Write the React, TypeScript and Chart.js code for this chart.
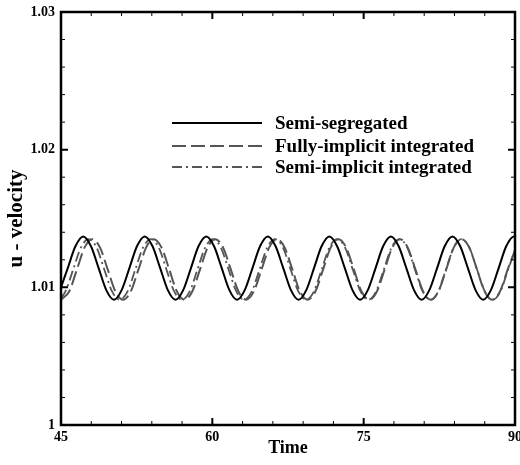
import React, { useEffect, useRef } from "react";
import { Chart, registerables } from "chart.js";

Chart.register(...registerables);

const X_MIN = 45;
const X_MAX = 90;
const Y_MIN = 1;
const Y_MAX = 1.03;

const xTickValues = [45, 60, 75, 90];
const xTickLabels = ["45", "60", "75", "90"];
const yTickValues = [1, 1.01, 1.02, 1.03];
const yTickLabels = ["1", "1.01", "1.02", "1.03"];

const seriesNames = ["Semi-segregated", "Fully-implicit integrated", "Semi-implicit integrated"];

const semiSegTime = [
  45, 45.67, 46.44, 47.2, 47.96, 48.73, 49.49, 50.25, 51.01, 51.78, 52.54, 53.3, 54.06, 54.83, 55.59,
  56.35, 57.11, 57.88, 58.64, 59.4, 60.16, 60.93, 61.69, 62.45, 63.21, 63.98, 64.74, 65.5, 66.26, 67.03,
  67.79, 68.55, 69.31, 70.08, 70.84, 71.6, 72.36, 73.13, 73.89, 74.65, 75.41, 76.18, 76.94, 77.7, 78.46,
  79.23, 79.99, 80.75, 81.51, 82.28, 83.04, 83.8, 84.56, 85.33, 86.09, 86.85, 87.61, 88.38, 89.14, 89.9, 90,
];
const semiSegU = [
  1.0100, 1.0114, 1.0130, 1.0137,
  1.0130, 1.0114, 1.0098, 1.0091, 1.0098, 1.0114, 1.0130, 1.0137,
  1.0130, 1.0114, 1.0098, 1.0091, 1.0098, 1.0114, 1.0130, 1.0137,
  1.0130, 1.0114, 1.0098, 1.0091, 1.0098, 1.0114, 1.0130, 1.0137,
  1.0130, 1.0114, 1.0098, 1.0091, 1.0098, 1.0114, 1.0130, 1.0137,
  1.0130, 1.0114, 1.0098, 1.0091, 1.0098, 1.0114, 1.0130, 1.0137,
  1.0130, 1.0114, 1.0098, 1.0091, 1.0098, 1.0114, 1.0130, 1.0137,
  1.0130, 1.0114, 1.0098, 1.0091, 1.0098, 1.0114, 1.0130, 1.0137,
  1.0137,
];

const fullyImpTime = [
  45, 45.81, 46.58, 47.34, 48.1, 48.86, 49.63, 50.39, 51.15, 51.91, 52.68, 53.44, 54.2, 54.96, 55.73,
  56.49, 57.25, 58.01, 58.78, 59.54, 60.3, 61.06, 61.83, 62.59, 63.35, 64.11, 64.88, 65.64, 66.4, 67.16,
  67.93, 68.69, 69.45, 70.21, 70.98, 71.74, 72.5, 73.26, 74.03, 74.79, 75.55, 76.31, 77.08, 77.84, 78.6,
  79.36, 80.13, 80.89, 81.65, 82.41, 83.18, 83.94, 84.7, 85.46, 86.23, 86.99, 87.75, 88.51, 89.28, 90,
];
const fullyImpU = [
  1.0091, 1.0097, 1.0113, 1.0129, 1.0135, 1.0129, 1.0113, 1.0097,
  1.0091, 1.0097, 1.0113, 1.0129, 1.0135, 1.0129, 1.0113, 1.0097,
  1.0091, 1.0097, 1.0113, 1.0129, 1.0135, 1.0129, 1.0113, 1.0097,
  1.0091, 1.0097, 1.0113, 1.0129, 1.0135, 1.0129, 1.0113, 1.0097,
  1.0091, 1.0097, 1.0113, 1.0129, 1.0135, 1.0129, 1.0113, 1.0097,
  1.0091, 1.0097, 1.0113, 1.0129, 1.0135, 1.0129, 1.0113, 1.0097,
  1.0091, 1.0097, 1.0113, 1.0129, 1.0135, 1.0129, 1.0113, 1.0097,
  1.0091, 1.0097, 1.0113, 1.0127,
];

const semiImpTime = [
  45, 45.44, 46.21, 46.98, 47.75, 48.52, 49.29, 50.06, 50.83, 51.6, 52.37, 53.14, 53.91, 54.68, 55.45,
  56.22, 56.99, 57.76, 58.53, 59.3, 60.07, 60.84, 61.61, 62.38, 63.14, 63.91, 64.68, 65.45, 66.22, 66.99,
  67.76, 68.53, 69.3, 70.07, 70.84, 71.61, 72.38, 73.15, 73.92, 74.69, 75.46, 76.23, 77.0, 77.77, 78.54,
  79.31, 80.08, 80.85, 81.62, 82.39, 83.16, 83.93, 84.7, 85.47, 86.24, 87.01, 87.78, 88.55, 89.32, 90,
];
const semiImpU = [
  1.0092, 1.0097, 1.0113, 1.0129, 1.0135, 1.0129, 1.0113, 1.0097,
  1.0091, 1.0097, 1.0113, 1.0129, 1.0135, 1.0129, 1.0113, 1.0097,
  1.0091, 1.0097, 1.0113, 1.0129, 1.0135, 1.0129, 1.0113, 1.0097,
  1.0091, 1.0097, 1.0113, 1.0129, 1.0135, 1.0129, 1.0113, 1.0097,
  1.0091, 1.0097, 1.0113, 1.0129, 1.0135, 1.0129, 1.0113, 1.0097,
  1.0091, 1.0097, 1.0113, 1.0129, 1.0135, 1.0129, 1.0113, 1.0097,
  1.0091, 1.0097, 1.0113, 1.0129, 1.0135, 1.0129, 1.0113, 1.0097,
  1.0091, 1.0097, 1.0113, 1.0127,
];

const toPoints = (ts: number[], vs: number[]) => ts.map((t, i) => ({ x: t, y: vs[i] }));

const FONT = "'Liberation Serif', 'Times New Roman', serif";

const framePlugin = {
  id: "frameTicksLegend",
  afterDraw(chart: any) {
    const { ctx, chartArea: a, scales } = chart;
    const x = scales.x;
    const y = scales.y;
    ctx.save();
    ctx.strokeStyle = "#000";
    for (let i = 0; i <= 15; i++) {
      const v = X_MIN + i * 3;
      const major = i % 5 === 0;
      const px = x.getPixelForValue(v);
      const len = major ? 7 : 4;
      ctx.lineWidth = major ? 2 : 1;
      ctx.beginPath();
      ctx.moveTo(px, a.bottom);
      ctx.lineTo(px, a.bottom - len);
      ctx.moveTo(px, a.top);
      ctx.lineTo(px, a.top + len);
      ctx.stroke();
    }
    for (let i = 0; i <= 15; i++) {
      const v = Y_MIN + i * 0.002;
      const major = i % 5 === 0;
      const py = y.getPixelForValue(v);
      const len = major ? 7 : 4;
      ctx.lineWidth = major ? 2 : 1;
      ctx.beginPath();
      ctx.moveTo(a.left, py);
      ctx.lineTo(a.left + len, py);
      ctx.moveTo(a.right, py);
      ctx.lineTo(a.right - len, py);
      ctx.stroke();
    }
    ctx.lineWidth = 2.5;
    ctx.strokeRect(a.left, a.top, a.right - a.left, a.bottom - a.top);

    const rowsY = [123, 146, 167];
    const lx0 = 172;
    const lx1 = 262;
    const tx = 275;
    ctx.font = `bold 19px ${FONT}`;
    ctx.textBaseline = "middle";
    ctx.textAlign = "left";
    chart.data.datasets.forEach((ds: any, i: number) => {
      ctx.strokeStyle = ds.borderColor;
      ctx.lineWidth = ds.borderWidth;
      ctx.setLineDash(ds.borderDash || []);
      ctx.beginPath();
      ctx.moveTo(lx0, rowsY[i]);
      ctx.lineTo(lx1, rowsY[i]);
      ctx.stroke();
      ctx.setLineDash([]);
      ctx.fillStyle = "#000";
      ctx.fillText(ds.label, tx, rowsY[i] + 1);
    });
    ctx.restore();
  },
};

export default function App() {
  const canvasRef = useRef<HTMLCanvasElement | null>(null);

  useEffect(() => {
    const canvas = canvasRef.current;
    if (!canvas) return;
    const chart = new Chart(canvas, {
      type: "line",
      data: {
        datasets: [
          {
            label: seriesNames[0],
            data: toPoints(semiSegTime, semiSegU),
            borderColor: "#000000",
            borderWidth: 2,
            pointRadius: 0,
            cubicInterpolationMode: "monotone",
            fill: false,
          },
          {
            label: seriesNames[1],
            data: toPoints(fullyImpTime, fullyImpU),
            borderColor: "#555555",
            borderWidth: 2,
            borderDash: [14, 5],
            pointRadius: 0,
            cubicInterpolationMode: "monotone",
            fill: false,
          },
          {
            label: seriesNames[2],
            data: toPoints(semiImpTime, semiImpU),
            borderColor: "#555555",
            borderWidth: 1.8,
            borderDash: [10, 4, 2, 4],
            pointRadius: 0,
            cubicInterpolationMode: "monotone",
            fill: false,
          },
        ],
      },
      options: {
        animation: false,
        responsive: false,
        maintainAspectRatio: false,
        layout: { padding: { top: 12, right: 5, left: 0, bottom: 0 } },
        plugins: {
          legend: { display: false },
          tooltip: { enabled: false },
        },
        scales: {
          x: {
            type: "linear",
            min: X_MIN,
            max: X_MAX,
            grid: { display: false, drawTicks: false },
            border: { display: false },
            afterBuildTicks: (s: any) => {
              s.ticks = xTickValues.map((v) => ({ value: v }));
            },
            afterFit: (s: any) => {
              s.height = 40;
              s.paddingLeft = 0;
              s.paddingRight = 0;
            },
            ticks: {
              autoSkip: false,
              maxRotation: 0,
              padding: 4,
              color: "#000",
              font: { family: FONT, size: 14, weight: "bold" },
              callback: (_v: any, i: number) => xTickLabels[i],
            },
            title: {
              display: true,
              text: "Time",
              color: "#000",
              font: { family: FONT, size: 18, weight: "bold" },
              padding: { top: 0, bottom: 6 },
            },
          },
          y: {
            type: "linear",
            min: Y_MIN,
            max: Y_MAX,
            grid: { display: false, drawTicks: false },
            border: { display: false },
            afterBuildTicks: (s: any) => {
              s.ticks = yTickValues.map((v) => ({ value: v }));
            },
            afterFit: (s: any) => {
              s.width = 61;
              s.paddingTop = 0;
              s.paddingBottom = 0;
            },
            ticks: {
              autoSkip: false,
              padding: 6,
              color: "#000",
              font: { family: FONT, size: 14, weight: "bold" },
              callback: (_v: any, i: number) => yTickLabels[i],
            },
            title: {
              display: true,
              text: "u - velocity",
              color: "#000",
              font: { family: FONT, size: 21, weight: "bold" },
              padding: { top: 4, bottom: 0 },
            },
          },
        },
      },
      plugins: [framePlugin],
    } as any);
    return () => chart.destroy();
  }, []);

  return (
    <div style={{ position: "fixed", left: 0, top: 0, width: 520, height: 465, background: "#fff" }}>
      <canvas ref={canvasRef} width={520} height={465} style={{ width: 520, height: 465, display: "block" }} />
    </div>
  );
}
